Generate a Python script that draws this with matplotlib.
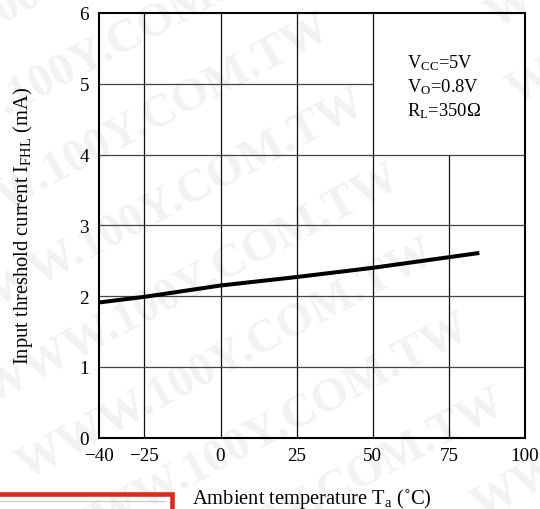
import matplotlib
matplotlib.use('Agg')
import matplotlib.pyplot as plt
from matplotlib.patches import Rectangle

# Dades llegides del gràfic
temp = [-40, -25, 0, 25, 50, 75, 85]
ifhl = [1.91, 1.99, 2.15, 2.27, 2.40, 2.55, 2.61]

xticks = [-40, -25, 0, 25, 50, 75, 100]
yticks = [0, 1, 2, 3, 4, 5, 6]
cond_text = 'V$_{\\rm CC}$=5V\nV$_{\\rm O}$=0.8V\nR$_{\\rm L}$=350Ω'

# marca d'aigua (posicions d'inici en píxels, des de dalt a l'esquerra)
wm_text = 'WWW.100Y.COM.TW'
wm_starts = [(-150, 105), (-115, 180), (-80, 255), (-45, 330), (-10, 405),
             (25, 480), (60, 555), (95, 630), (495, 30), (515, 105), (480, 520)]

plt.rcParams['font.family'] = 'Liberation Serif'
plt.rcParams['mathtext.fontset'] = 'custom'
plt.rcParams['mathtext.rm'] = 'Liberation Serif'
plt.rcParams['mathtext.it'] = 'Liberation Serif:italic'

W, H = 540, 510
fig = plt.figure(figsize=(W / 100, H / 100), dpi=100)
ax = fig.add_axes([98.7 / W, (H - 438.7) / H, (525 - 98.7) / W, (438.7 - 14) / H])
ax.patch.set_alpha(0)

for x0, y0 in wm_starts:
    fig.text(x0 / W, 1 - y0 / H, wm_text, fontsize=34, fontweight='bold',
             color='#f2f2f2', rotation=28, rotation_mode='anchor',
             ha='left', va='baseline', zorder=-1)

# graella (la zona de les condicions queda buida)
ax.vlines([-25, 0, 25, 50], 0, 6, color='#111111', lw=0.9, zorder=1)
ax.vlines([75], 0, 4, color='#111111', lw=0.9, zorder=1)
ax.hlines([1, 2, 3, 4], -40, 100, color='#444444', lw=0.9, zorder=1)
ax.hlines([5], -40, 50, color='#444444', lw=0.9, zorder=1)

ax.plot(temp, ifhl, color='black', lw=2.9, solid_capstyle='butt', zorder=3)

ax.text(61.3, 4.97, cond_text, fontsize=13.3, va='center', ha='left',
        linespacing=1.3)

ax.set_xlim(-40, 100)
ax.set_ylim(0, 6)
ax.set_xticks(xticks)
ax.set_yticks(yticks)
ax.tick_params(length=0, labelsize=13.8, pad=7)
for s in ax.spines.values():
    s.set_linewidth(1.5)
    s.set_zorder(4)

ax.set_xlabel('Ambient temperature T$_{\\rm a}$ (˚C)', fontsize=14.8, labelpad=15.5)
ax.set_ylabel('Input threshold current I$_{\\rm FHL}$ (mA)', fontsize=14.8, labelpad=32)

# requadre vermell tallat a baix a l'esquerra
fig.patches.append(Rectangle((-10 / W, -0.2), 182.5 / W, 0.2 + 15 / H,
                             transform=fig.transFigure, fill=False,
                             edgecolor='#dc2a1e', lw=3.3, figure=fig))
fig.lines.append(plt.Line2D([0, 165 / W], [8 / H, 8 / H], transform=fig.transFigure,
                            color='#c8c8c8', lw=0.8, figure=fig))

plt.savefig('out.png', dpi=100)
